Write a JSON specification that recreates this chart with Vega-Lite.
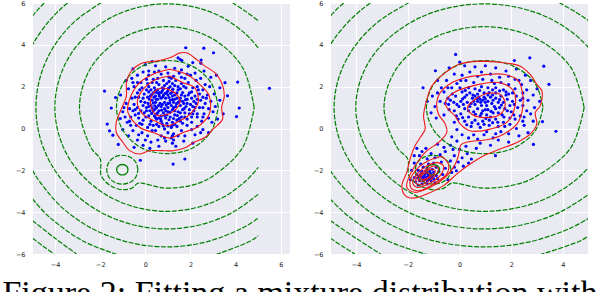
{
"$schema":"https://vega.github.io/schema/vega-lite/v6.json",
"padding":{"left":2,"top":0,"right":0,"bottom":0},
"background":"white",
"title":{"text":"Figure 2: Fitting a mixture distribution with","orient":"bottom","anchor":"start","font":"Liberation Serif","fontSize":34,"fontWeight":"normal","color":"#000000","offset":9,"dx":-13,"frame":"bounds"},
"config":{"view":{"fill":"#eaeaf2","stroke":null},
"axis":{"grid":true,"gridColor":"#ffffff","gridWidth":1.1,"domain":false,"ticks":false,"title":null,"labelFont":"DejaVu Sans","labelFontSize":6.5,"labelColor":"#262626"}},
"spacing":23,
"datasets":{
"green":[
{"c":"c1","x":3.23,"y":1.02},{"c":"c1","x":2.93,"y":2.15},{"c":"c1","x":2.1,"y":2.97},{"c":"c1","x":0.97,"y":3.25},{"c":"c1","x":-0.16,"y":2.97},{"c":"c1","x":-0.98,"y":2.15},{"c":"c1","x":-1.28,"y":1.02},{"c":"c1","x":-0.98,"y":-0.11},{"c":"c1","x":-0.16,"y":-0.93},{"c":"c1","x":0.97,"y":-1.2},{"c":"c1","x":2.1,"y":-0.93},{"c":"c1","x":2.93,"y":-0.11},{"c":"c1","x":3.23,"y":1.02},
{"c":"c2","x":4.82,"y":1},{"c":"c2","x":4.3,"y":2.93},{"c":"c2","x":2.88,"y":4.35},{"c":"c2","x":0.95,"y":4.87},{"c":"c2","x":-0.98,"y":4.35},{"c":"c2","x":-2.4,"y":2.93},{"c":"c2","x":-2.92,"y":1},{"c":"c2","x":-2.4,"y":-0.93},{"c":"c2","x":-2.0,"y":-1.46},{"c":"c2","x":-1.96,"y":-2.25},{"c":"c2","x":-1.59,"y":-2.7},{"c":"c2","x":-1.07,"y":-2.92},{"c":"c2","x":-0.62,"y":-2.86},{"c":"c2","x":-0.33,"y":-2.62},{"c":"c2","x":-0.1,"y":-2.62},{"c":"c2","x":0.49,"y":-2.78},{"c":"c2","x":0.95,"y":-2.85},{"c":"c2","x":1.95,"y":-2.74},{"c":"c2","x":2.88,"y":-2.35},{"c":"c2","x":4.3,"y":-0.93},{"c":"c2","x":4.82,"y":1},
{"c":"c3","x":5,"y":3.86},{"c":"c3","x":4.46,"y":4.5},{"c":"c3","x":3.43,"y":5.3},{"c":"c3","x":2.23,"y":5.79},{"c":"c3","x":0.95,"y":5.96},{"c":"c3","x":-0.33,"y":5.79},{"c":"c3","x":-1.53,"y":5.3},{"c":"c3","x":-2.56,"y":4.5},{"c":"c3","x":-3.35,"y":3.48},{"c":"c3","x":-3.84,"y":2.28},{"c":"c3","x":-4.01,"y":1},{"c":"c3","x":-3.84,"y":-0.28},{"c":"c3","x":-3.35,"y":-1.48},{"c":"c3","x":-2.56,"y":-2.5},{"c":"c3","x":-1.53,"y":-3.3},{"c":"c3","x":-0.33,"y":-3.79},{"c":"c3","x":0.95,"y":-3.96},{"c":"c3","x":2.23,"y":-3.79},{"c":"c3","x":3.43,"y":-3.3},{"c":"c3","x":4.46,"y":-2.5},{"c":"c3","x":5,"y":-1.86},
{"c":"c4a","x":3.85,"y":6.02},{"c":"c4a","x":4.45,"y":5.6},{"c":"c4a","x":5,"y":5.15},
{"c":"c4b","x":-1.95,"y":6.02},{"c":"c4b","x":-3.15,"y":5.1},{"c":"c4b","x":-4.07,"y":3.9},{"c":"c4b","x":-4.65,"y":2.5},{"c":"c4b","x":-4.85,"y":1},{"c":"c4b","x":-4.65,"y":-0.5},{"c":"c4b","x":-4.07,"y":-1.9},{"c":"c4b","x":-3.15,"y":-3.1},{"c":"c4b","x":-1.95,"y":-4.02},{"c":"c4b","x":-0.55,"y":-4.6},{"c":"c4b","x":0.95,"y":-4.8},{"c":"c4b","x":2.45,"y":-4.6},{"c":"c4b","x":3.85,"y":-4.02},{"c":"c4b","x":5,"y":-3.15},
{"c":"c5a","x":-3.45,"y":6},{"c":"c5a","x":-3.76,"y":5.71},{"c":"c5a","x":-4.3,"y":5.1},{"c":"c5a","x":-4.82,"y":4.33},{"c":"c5a","x":-5,"y":4},
{"c":"c5b","x":-5,"y":-2},{"c":"c5b","x":-4.82,"y":-2.33},{"c":"c5b","x":-3.76,"y":-3.71},{"c":"c5b","x":-2.38,"y":-4.77},{"c":"c5b","x":-0.77,"y":-5.43},{"c":"c5b","x":0.95,"y":-5.66},{"c":"c5b","x":2.67,"y":-5.43},{"c":"c5b","x":4.28,"y":-4.77},{"c":"c5b","x":5,"y":-4.29},
{"c":"c6a","x":-4.48,"y":6},{"c":"c6a","x":-4.75,"y":5.7},{"c":"c6a","x":-5,"y":5.37},
{"c":"c6b","x":-5,"y":-3.37},{"c":"c6b","x":-4.27,"y":-4.22},{"c":"c6b","x":-2.74,"y":-5.39},{"c":"c6b","x":-0.96,"y":-6.13},
{"c":"c6c","x":2.86,"y":-6.13},{"c":"c6c","x":4.64,"y":-5.39},{"c":"c6c","x":5,"y":-5.13},
{"c":"c7","x":-5,"y":-4.4},{"c":"c7","x":-4,"y":-5.25},{"c":"c7","x":-3.05,"y":-6},
{"c":"c8","x":-5,"y":-5.24},{"c":"c8","x":-4.5,"y":-5.65},{"c":"c8","x":-4.05,"y":-6},
{"c":"b1","x":-0.33,"y":-1.97},{"c":"b1","x":-0.42,"y":-1.62},{"c":"b1","x":-0.67,"y":-1.37},{"c":"b1","x":-1.02,"y":-1.28},{"c":"b1","x":-1.37,"y":-1.37},{"c":"b1","x":-1.62,"y":-1.62},{"c":"b1","x":-1.71,"y":-1.97},{"c":"b1","x":-1.62,"y":-2.32},{"c":"b1","x":-1.37,"y":-2.57},{"c":"b1","x":-1.02,"y":-2.66},{"c":"b1","x":-0.67,"y":-2.57},{"c":"b1","x":-0.42,"y":-2.32},{"c":"b1","x":-0.33,"y":-1.97}
],
"ring":[
{"c":"b2","x":-0.77,"y":-1.97},{"c":"b2","x":-0.8,"y":-1.85},{"c":"b2","x":-0.9,"y":-1.75},{"c":"b2","x":-1.02,"y":-1.72},{"c":"b2","x":-1.14,"y":-1.75},{"c":"b2","x":-1.24,"y":-1.85},{"c":"b2","x":-1.27,"y":-1.97},{"c":"b2","x":-1.24,"y":-2.09},{"c":"b2","x":-1.14,"y":-2.19},{"c":"b2","x":-1.02,"y":-2.22},{"c":"b2","x":-0.9,"y":-2.19},{"c":"b2","x":-0.8,"y":-2.09},{"c":"b2","x":-0.77,"y":-1.97}
],
"redL":[
{"c":"a","x":1.45,"y":3.59},{"c":"a","x":1.82,"y":3.62},{"c":"a","x":2.27,"y":3.3},{"c":"a","x":2.64,"y":2.98},{"c":"a","x":3.08,"y":2.67},{"c":"a","x":3.38,"y":2.19},{"c":"a","x":3.5,"y":1.56},{"c":"a","x":3.38,"y":1.0},{"c":"a","x":3.42,"y":0.44},{"c":"a","x":3.0,"y":-0.03},{"c":"a","x":2.64,"y":-0.43},{"c":"a","x":2.12,"y":-0.67},{"c":"a","x":1.82,"y":-0.9},{"c":"a","x":1.23,"y":-1.06},{"c":"a","x":0.71,"y":-1.06},{"c":"a","x":0.19,"y":-1.06},{"c":"a","x":-0.25,"y":-1.22},{"c":"a","x":-0.7,"y":-1.06},{"c":"a","x":-0.99,"y":-0.67},{"c":"a","x":-1.29,"y":-0.19},{"c":"a","x":-1.29,"y":0.29},{"c":"a","x":-1.07,"y":0.92},{"c":"a","x":-0.84,"y":1.56},{"c":"a","x":-0.84,"y":2.19},{"c":"a","x":-0.62,"y":2.75},{"c":"a","x":-0.1,"y":3.14},{"c":"a","x":0.49,"y":3.22},{"c":"a","x":1.08,"y":3.38},{"c":"a","x":1.45,"y":3.59},
{"c":"b","x":1.08,"y":2.83},{"c":"b","x":1.82,"y":2.59},{"c":"b","x":2.41,"y":2.11},{"c":"b","x":2.83,"y":1.56},{"c":"b","x":2.83,"y":0.68},{"c":"b","x":2.27,"y":0.05},{"c":"b","x":1.67,"y":-0.19},{"c":"b","x":1.08,"y":-0.46},{"c":"b","x":0.34,"y":-0.19},{"c":"b","x":-0.25,"y":0.05},{"c":"b","x":-0.77,"y":0.76},{"c":"b","x":-0.7,"y":1.4},{"c":"b","x":-0.25,"y":2.19},{"c":"b","x":0.34,"y":2.59},{"c":"b","x":1.08,"y":2.83},
{"c":"d","x":1.08,"y":2.51},{"c":"d","x":1.67,"y":2.19},{"c":"d","x":2.19,"y":1.95},{"c":"d","x":2.34,"y":1.24},{"c":"d","x":1.97,"y":0.68},{"c":"d","x":1.53,"y":0.37},{"c":"d","x":1.0,"y":0.13},{"c":"d","x":0.41,"y":0.37},{"c":"d","x":-0.1,"y":0.68},{"c":"d","x":-0.36,"y":1.24},{"c":"d","x":-0.1,"y":1.87},{"c":"d","x":0.49,"y":2.35},{"c":"d","x":1.08,"y":2.51},
{"c":"e","x":0.79,"y":1.95},{"c":"e","x":1.3,"y":1.71},{"c":"e","x":1.54,"y":1.32},{"c":"e","x":1.38,"y":0.95},{"c":"e","x":1.0,"y":0.68},{"c":"e","x":0.49,"y":0.65},{"c":"e","x":0.27,"y":1.0},{"c":"e","x":0.27,"y":1.56},{"c":"e","x":0.49,"y":1.84},{"c":"e","x":0.79,"y":1.95}
],
"redR":[
{"c":"a","x":0.99,"y":3.22},{"c":"a","x":1.7,"y":3.14},{"c":"a","x":2.35,"y":2.98},{"c":"a","x":2.73,"y":2.59},{"c":"a","x":2.99,"y":2.11},{"c":"a","x":3.19,"y":1.79},{"c":"a","x":3.12,"y":1.08},{"c":"a","x":2.93,"y":0.76},{"c":"a","x":2.99,"y":0.21},{"c":"a","x":2.73,"y":-0.27},{"c":"a","x":2.22,"y":-0.67},{"c":"a","x":1.57,"y":-0.98},{"c":"a","x":0.93,"y":-1.3},{"c":"a","x":0.41,"y":-1.7},{"c":"a","x":-0.1,"y":-2.17},{"c":"a","x":-0.62,"y":-2.73},{"c":"a","x":-1.26,"y":-3.13},{"c":"a","x":-1.78,"y":-3.33},{"c":"a","x":-2.1,"y":-3.21},{"c":"a","x":-2.23,"y":-2.73},{"c":"a","x":-2.04,"y":-2.1},{"c":"a","x":-1.91,"y":-1.46},{"c":"a","x":-1.72,"y":-0.83},{"c":"a","x":-1.52,"y":-0.43},{"c":"a","x":-1.33,"y":-0.03},{"c":"a","x":-1.39,"y":0.6},{"c":"a","x":-1.26,"y":1.4},{"c":"a","x":-1.07,"y":2.03},{"c":"a","x":-0.55,"y":2.67},{"c":"a","x":-0.04,"y":3.06},{"c":"a","x":0.48,"y":3.19},{"c":"a","x":0.99,"y":3.22},
{"c":"b","x":0.8,"y":2.54},{"c":"b","x":1.7,"y":2.59},{"c":"b","x":2.28,"y":2.27},{"c":"b","x":2.45,"y":1.56},{"c":"b","x":2.41,"y":0.76},{"c":"b","x":2.22,"y":0.21},{"c":"b","x":1.7,"y":-0.27},{"c":"b","x":1.06,"y":-0.54},{"c":"b","x":0.35,"y":-0.63},{"c":"b","x":0.05,"y":-0.79},{"c":"b","x":-0.04,"y":-1.3},{"c":"b","x":-0.23,"y":-1.86},{"c":"b","x":-0.55,"y":-2.33},{"c":"b","x":-1.13,"y":-2.81},{"c":"b","x":-1.72,"y":-3.05},{"c":"b","x":-2.04,"y":-2.81},{"c":"b","x":-1.93,"y":-2.25},{"c":"b","x":-1.59,"y":-1.54},{"c":"b","x":-1.26,"y":-1.06},{"c":"b","x":-0.81,"y":-0.67},{"c":"b","x":-0.49,"y":-0.19},{"c":"b","x":-0.55,"y":0.21},{"c":"b","x":-0.81,"y":0.68},{"c":"b","x":-0.88,"y":1.24},{"c":"b","x":-0.75,"y":1.71},{"c":"b","x":-0.3,"y":2.19},{"c":"b","x":0.22,"y":2.43},{"c":"b","x":0.8,"y":2.54},
{"c":"d","x":0.74,"y":2.11},{"c":"d","x":1.57,"y":2.19},{"c":"d","x":2.09,"y":1.79},{"c":"d","x":2.15,"y":1.08},{"c":"d","x":1.83,"y":0.29},{"c":"d","x":1.19,"y":-0.03},{"c":"d","x":0.41,"y":-0.11},{"c":"d","x":0.03,"y":0.21},{"c":"d","x":-0.17,"y":0.6},{"c":"d","x":-0.49,"y":1.0},{"c":"d","x":-0.55,"y":1.24},{"c":"d","x":-0.23,"y":1.71},{"c":"d","x":0.74,"y":2.11},
{"c":"e","x":1.06,"y":1.68},{"c":"e","x":1.57,"y":1.63},{"c":"e","x":1.77,"y":1.16},{"c":"e","x":1.57,"y":0.68},{"c":"e","x":0.93,"y":0.52},{"c":"e","x":0.48,"y":0.68},{"c":"e","x":0.31,"y":1.0},{"c":"e","x":0.61,"y":1.4},{"c":"e","x":1.06,"y":1.68},
{"c":"f","x":-0.68,"y":-1.33},{"c":"f","x":-0.43,"y":-1.7},{"c":"f","x":-0.49,"y":-2.17},{"c":"f","x":-1.01,"y":-2.65},{"c":"f","x":-1.52,"y":-2.97},{"c":"f","x":-1.84,"y":-2.89},{"c":"f","x":-1.91,"y":-2.49},{"c":"f","x":-1.59,"y":-1.86},{"c":"f","x":-1.2,"y":-1.54},{"c":"f","x":-0.68,"y":-1.33},
{"c":"g","x":-0.88,"y":-1.62},{"c":"g","x":-0.62,"y":-1.78},{"c":"g","x":-0.75,"y":-2.25},{"c":"g","x":-1.2,"y":-2.65},{"c":"g","x":-1.65,"y":-2.81},{"c":"g","x":-1.81,"y":-2.57},{"c":"g","x":-1.59,"y":-2.1},{"c":"g","x":-1.26,"y":-1.78},{"c":"g","x":-0.88,"y":-1.62},
{"c":"h","x":-1.01,"y":-1.78},{"c":"h","x":-0.81,"y":-1.94},{"c":"h","x":-1.01,"y":-2.33},{"c":"h","x":-1.39,"y":-2.65},{"c":"h","x":-1.65,"y":-2.65},{"c":"h","x":-1.68,"y":-2.41},{"c":"h","x":-1.46,"y":-2.1},{"c":"h","x":-1.01,"y":-1.78},
{"c":"i","x":-1.13,"y":-1.94},{"c":"i","x":-0.94,"y":-2.02},{"c":"i","x":-1.13,"y":-2.33},{"c":"i","x":-1.46,"y":-2.52},{"c":"i","x":-1.59,"y":-2.49},{"c":"i","x":-1.52,"y":-2.25},{"c":"i","x":-1.13,"y":-1.94},
{"c":"j","x":-1.24,"y":-2.1},{"c":"j","x":-1.13,"y":-2.22},{"c":"j","x":-1.33,"y":-2.41},{"c":"j","x":-1.48,"y":-2.41},{"c":"j","x":-1.46,"y":-2.25},{"c":"j","x":-1.24,"y":-2.1}
],
"ptsL":[
{"x":-1.81,"y":1.79},{"x":5.5,"y":1.92},{"x":4.09,"y":2.22},{"x":4.16,"y":0.98},{"x":4.04,"y":0.57},{"x":3.02,"y":3.62},{"x":2.59,"y":3.84},{"x":1.79,"y":3.86},{"x":1.23,"y":-1.7},{"x":1.75,"y":-1.46},{"x":-0.22,"y":-1.52},{"x":3.64,"y":1.56},{"x":3.53,"y":2.19},{"x":-1.51,"y":0.98},{"x":-1.69,"y":0.21},{"x":-1.59,"y":-0.11},{"x":-1.44,"y":-0.32},{"x":-1.2,"y":-0.76},{"x":-1.32,"y":1.48},{"x":-1.11,"y":0.48},
{"x":2.47,"y":3.27},{"x":2.46,"y":3.12},{"x":1.55,"y":3.3},{"x":1.45,"y":3.38},{"x":1.62,"y":3.25},{"x":2.1,"y":3.15},{"x":0.0,"y":3.05},{"x":0.3,"y":3.2},{"x":0.45,"y":3.0},{"x":0.9,"y":2.95},{"x":1.3,"y":2.88},{"x":1.9,"y":2.98},{"x":2.6,"y":2.75},{"x":3.15,"y":2.55},{"x":2.9,"y":2.45},{"x":3.3,"y":1.95},{"x":3.05,"y":1.65},{"x":3.3,"y":1.35},{"x":3.1,"y":1.05},{"x":3.45,"y":0.7},{"x":3.2,"y":0.45},{"x":2.95,"y":0.3},{"x":2.8,"y":-0.2},{"x":2.55,"y":-0.05},{"x":2.2,"y":-0.3},{"x":2.1,"y":-0.7},{"x":1.7,"y":-0.6},{"x":1.35,"y":-0.85},{"x":1.2,"y":-0.7},{"x":1.15,"y":-0.45},{"x":0.9,"y":-0.6},{"x":0.6,"y":-0.85},{"x":0.25,"y":-0.65},{"x":0.2,"y":-0.95},{"x":-0.1,"y":-0.8},{"x":-0.35,"y":-0.55},{"x":-0.5,"y":-0.9},{"x":-0.75,"y":-0.35},{"x":-1.0,"y":-0.05},{"x":-0.8,"y":0.3},{"x":-0.55,"y":-0.1},{"x":-1.0,"y":0.8},{"x":-0.85,"y":1.2},{"x":-1.1,"y":1.6},{"x":-0.75,"y":1.9},{"x":-0.85,"y":2.3},{"x":-0.6,"y":2.4},{"x":-0.55,"y":2.85},{"x":-0.35,"y":2.55},{"x":-0.1,"y":2.7},
{"x":0.15,"y":2.55},{"x":0.4,"y":2.7},{"x":0.7,"y":2.6},{"x":1.0,"y":2.65},{"x":1.25,"y":2.5},{"x":1.5,"y":2.65},{"x":1.75,"y":2.4},{"x":2.0,"y":2.55},{"x":2.25,"y":2.3},{"x":2.45,"y":2.4},{"x":2.65,"y":2.1},{"x":2.85,"y":2.0},{"x":2.55,"y":1.85},{"x":2.75,"y":1.6},{"x":2.9,"y":1.3},{"x":2.65,"y":1.2},{"x":2.8,"y":0.95},{"x":2.6,"y":0.7},{"x":2.8,"y":0.5},{"x":2.5,"y":0.35},{"x":2.3,"y":0.55},{"x":2.3,"y":0.1},{"x":2.05,"y":-0.05},{"x":1.85,"y":0.15},{"x":1.6,"y":-0.1},{"x":1.45,"y":-0.35},{"x":1.0,"y":-0.2},{"x":0.7,"y":-0.35},{"x":0.45,"y":-0.1},{"x":0.1,"y":-0.35},{"x":-0.15,"y":-0.2},{"x":-0.4,"y":0.15},{"x":-0.65,"y":0.55},{"x":-0.45,"y":0.65},{"x":-0.7,"y":0.95},{"x":-0.5,"y":1.15},{"x":-0.6,"y":1.45},{"x":-0.35,"y":1.7},{"x":-0.5,"y":2.0},{"x":-0.2,"y":2.2},{"x":0.05,"y":2.35},{"x":0.3,"y":2.2},{"x":0.55,"y":2.4},{"x":0.8,"y":2.3},
{"x":1.05,"y":2.25},{"x":1.35,"y":2.3},{"x":1.6,"y":2.15},{"x":1.9,"y":2.2},{"x":2.1,"y":1.95},{"x":2.3,"y":2.0},{"x":2.4,"y":1.65},{"x":2.2,"y":1.55},{"x":2.45,"y":1.35},{"x":2.25,"y":1.2},{"x":2.4,"y":1.0},{"x":2.15,"y":0.85},{"x":2.3,"y":0.7},{"x":2.05,"y":0.55},{"x":1.85,"y":0.45},{"x":1.65,"y":0.25},{"x":1.4,"y":0.1},{"x":1.15,"y":0.05},{"x":0.85,"y":-0.02},{"x":0.6,"y":0.1},{"x":0.35,"y":0.15},{"x":0.1,"y":0.05},{"x":-0.1,"y":0.4},{"x":-0.3,"y":0.5},{"x":-0.2,"y":0.85},{"x":-0.35,"y":1.0},{"x":-0.2,"y":1.3},{"x":-0.3,"y":1.5},{"x":-0.05,"y":1.65},{"x":-0.15,"y":1.95},{"x":0.15,"y":2.0},{"x":0.4,"y":1.95},{"x":0.6,"y":2.1},{"x":0.85,"y":2.05},{"x":1.1,"y":2.0},{"x":1.3,"y":2.05},{"x":1.55,"y":1.9},{"x":1.8,"y":1.95},{"x":1.95,"y":1.7},{"x":2.05,"y":1.45},{"x":1.85,"y":1.4},{"x":2.0,"y":1.15},{"x":1.8,"y":1.05},{"x":1.95,"y":0.9},{"x":1.75,"y":0.75},{"x":1.6,"y":0.55},{"x":1.4,"y":0.4},{"x":1.2,"y":0.3},{"x":0.95,"y":0.25},{"x":0.7,"y":0.35},{"x":0.5,"y":0.45},{"x":0.25,"y":0.35},{"x":0.15,"y":0.6},{"x":-0.05,"y":0.75},{"x":0.05,"y":1.0},{"x":-0.02,"y":1.25},{"x":0.1,"y":1.5},{"x":0.15,"y":1.75},{"x":0.35,"y":1.7},
{"x":0.55,"y":1.85},{"x":0.75,"y":1.8},{"x":1.0,"y":1.8},{"x":1.2,"y":1.75},{"x":1.4,"y":1.7},{"x":1.6,"y":1.6},{"x":1.75,"y":1.55},{"x":1.65,"y":1.3},{"x":1.55,"y":1.1},{"x":1.65,"y":0.9},{"x":1.45,"y":0.8},{"x":1.3,"y":0.65},{"x":1.1,"y":0.55},{"x":0.9,"y":0.5},{"x":0.7,"y":0.6},{"x":0.5,"y":0.7},{"x":0.35,"y":0.85},{"x":0.25,"y":1.1},{"x":0.3,"y":1.35},{"x":0.45,"y":1.55},{"x":0.6,"y":1.65},{"x":0.8,"y":1.6},{"x":1.0,"y":1.6},{"x":1.2,"y":1.55},{"x":1.4,"y":1.45},{"x":1.45,"y":1.25},{"x":1.35,"y":1.05},{"x":1.2,"y":0.9},{"x":1.0,"y":0.8},{"x":0.8,"y":0.75},{"x":0.6,"y":0.85},{"x":0.5,"y":1.0},{"x":0.45,"y":1.25},{"x":0.55,"y":1.4},{"x":0.7,"y":1.45},{"x":0.9,"y":1.45},{"x":1.1,"y":1.35},{"x":1.25,"y":1.25},{"x":1.15,"y":1.1},{"x":1.0,"y":1.0},{"x":0.85,"y":0.95},{"x":0.7,"y":1.05},{"x":0.65,"y":1.2},{"x":0.85,"y":1.25},{"x":1.0,"y":1.2},{"x":0.38,"y":1.5},{"x":0.62,"y":1.72},{"x":0.95,"y":1.72},{"x":1.3,"y":1.4},{"x":1.55,"y":1.45},{"x":1.7,"y":1.2},{"x":1.3,"y":0.85},{"x":0.95,"y":0.65},{"x":0.6,"y":0.5},{"x":0.4,"y":0.6},{"x":0.2,"y":0.85},{"x":0.12,"y":1.2},{"x":0.22,"y":1.55},{"x":0.75,"y":1.95},{"x":1.45,"y":2.0},{"x":1.9,"y":1.6},{"x":2.15,"y":1.3},{"x":2.2,"y":1.0},{"x":1.95,"y":0.7},{"x":1.55,"y":0.35},{"x":1.2,"y":0.15},{"x":0.8,"y":0.12},{"x":0.3,"y":-0.1},{"x":-0.25,"y":0.25},{"x":-0.45,"y":0.9},{"x":-0.1,"y":1.45},{"x":0.35,"y":2.35},{"x":1.15,"y":2.4},{"x":1.6,"y":2.45},{"x":2.55,"y":1.5},{"x":2.55,"y":1.0},{"x":2.05,"y":0.3},{"x":1.25,"y":-0.25},{"x":1.25,"y":-0.55},{"x":1.2,"y":-0.35},{"x":0.55,"y":-0.55},{"x":-0.3,"y":-0.3},{"x":-0.65,"y":0.15},{"x":-0.9,"y":0.55},{"x":-0.35,"y":2.2},{"x":0.6,"y":2.75},{"x":1.6,"y":2.8},{"x":2.2,"y":2.65},
{"x":0.3,"y":0.98},{"x":0.42,"y":1.08},{"x":0.58,"y":1.1},{"x":0.75,"y":1.15},{"x":0.92,"y":1.12},{"x":1.08,"y":1.22},{"x":1.2,"y":1.38},{"x":1.05,"y":1.48},{"x":0.78,"y":1.52},{"x":0.62,"y":1.55},{"x":0.48,"y":1.4},{"x":0.35,"y":1.22},{"x":0.42,"y":0.92},{"x":0.55,"y":0.75},{"x":0.72,"y":0.88},{"x":0.9,"y":0.85},{"x":1.1,"y":0.78},{"x":1.25,"y":1.0},{"x":1.38,"y":1.18},{"x":1.52,"y":1.32},{"x":1.3,"y":1.6},{"x":1.12,"y":1.68},{"x":0.88,"y":1.68},{"x":0.7,"y":1.72},{"x":0.5,"y":1.72},{"x":0.28,"y":1.62},{"x":0.18,"y":1.4},{"x":0.15,"y":1.05},{"x":0.28,"y":0.72},{"x":0.45,"y":0.52},{"x":0.68,"y":0.45},{"x":0.85,"y":0.62},{"x":1.05,"y":0.42},{"x":1.25,"y":0.48},{"x":1.42,"y":0.62},{"x":1.55,"y":0.75},{"x":1.72,"y":0.95},{"x":1.85,"y":1.2},{"x":1.78,"y":1.38},{"x":1.65,"y":1.72},{"x":1.45,"y":1.85},{"x":1.22,"y":1.88},{"x":1.02,"y":1.92},{"x":0.8,"y":1.9},{"x":0.45,"y":1.82},{"x":0.25,"y":1.85},{"x":0.05,"y":1.85},{"x":-0.1,"y":1.1},{"x":0.05,"y":0.85},{"x":0.02,"y":0.55},{"x":0.2,"y":0.2},{"x":0.5,"y":0.2},{"x":0.75,"y":0.22},{"x":1.0,"y":0.12},{"x":1.3,"y":0.2},{"x":1.5,"y":0.48},{"x":1.75,"y":0.55},{"x":2.1,"y":0.7},{"x":2.1,"y":1.05},{"x":2.3,"y":1.4},{"x":2.05,"y":1.75},{"x":1.7,"y":2.02},{"x":1.2,"y":2.15},{"x":0.95,"y":2.15},{"x":0.5,"y":2.2},{"x":0.1,"y":2.15},{"x":-0.25,"y":1.85},{"x":-0.45,"y":1.5},{"x":-0.55,"y":0.85},{"x":-0.3,"y":0.72},{"x":-0.15,"y":0.2},{"x":2.55,"y":0.55},{"x":2.7,"y":1.45},{"x":2.35,"y":1.85},{"x":1.85,"y":2.6},{"x":1.05,"y":2.45},{"x":0.15,"y":2.75},{"x":-0.55,"y":2.2},{"x":-0.95,"y":1.0},{"x":-0.7,"y":0.35},{"x":0.0,"y":-0.55},{"x":0.85,"y":-0.45},{"x":1.75,"y":-0.35},{"x":2.45,"y":-0.2},{"x":3.0,"y":0.8}
],
"ptsR":[
{"x":-0.15,"y":3.54},{"x":0.01,"y":3.17},{"x":2.72,"y":3.38},{"x":3.26,"y":2.98},{"x":2.12,"y":3.25},{"x":3.46,"y":2.11},{"x":3.73,"y":-0.13},{"x":2.86,"y":-0.76},{"x":3.21,"y":0.33},{"x":-1.41,"y":1.95},{"x":-0.93,"y":2.76},{"x":1.39,"y":-1.3},{"x":0.46,"y":-1.46},{"x":-0.12,"y":-2.02},
{"x":-0.4,"y":2.9},{"x":0.2,"y":3.0},{"x":0.6,"y":2.95},{"x":1.0,"y":3.0},{"x":1.4,"y":2.9},{"x":1.8,"y":2.75},{"x":2.2,"y":2.85},{"x":2.55,"y":2.55},{"x":2.75,"y":2.3},{"x":3.0,"y":1.9},{"x":2.85,"y":1.6},{"x":3.1,"y":1.3},{"x":2.9,"y":1.0},{"x":2.75,"y":0.7},{"x":2.85,"y":0.35},{"x":2.5,"y":0.15},{"x":2.65,"y":-0.2},{"x":2.3,"y":-0.35},{"x":1.9,"y":-0.65},{"x":1.5,"y":-0.55},{"x":1.2,"y":-0.8},{"x":0.8,"y":-0.7},{"x":0.65,"y":-0.95},{"x":0.35,"y":-0.45},{"x":0.1,"y":-0.3},{"x":-0.1,"y":-0.05},{"x":-0.2,"y":0.3},{"x":-0.6,"y":0.65},{"x":-0.9,"y":0.5},{"x":-1.1,"y":0.75},{"x":-1.25,"y":1.3},{"x":-1.05,"y":1.55},{"x":-0.75,"y":1.3},{"x":-0.95,"y":1.05},{"x":-0.7,"y":1.95},{"x":-0.85,"y":2.3},{"x":-0.5,"y":2.3},{"x":-0.2,"y":2.6},{"x":0.1,"y":2.55},{"x":0.4,"y":2.7},{"x":0.85,"y":2.7},{"x":1.2,"y":2.6},{"x":1.55,"y":2.45},{"x":1.9,"y":2.5},{"x":2.15,"y":2.35},{"x":2.4,"y":2.1},{"x":2.6,"y":1.85},{"x":2.45,"y":1.7},{"x":2.65,"y":1.35},{"x":2.45,"y":1.1},{"x":2.6,"y":0.85},{"x":2.35,"y":0.6},{"x":2.15,"y":0.45},{"x":2.2,"y":0.0},{"x":1.9,"y":-0.25},{"x":1.6,"y":-0.15},{"x":1.3,"y":-0.45},{"x":0.95,"y":-0.3},{"x":0.55,"y":-0.3},{"x":-0.05,"y":0.45},
{"x":-0.45,"y":1.45},{"x":-0.55,"y":1.2},{"x":-0.6,"y":1.75},{"x":-0.3,"y":1.95},{"x":-0.1,"y":2.15},{"x":0.25,"y":2.3},{"x":0.55,"y":2.2},{"x":0.9,"y":2.35},{"x":1.25,"y":2.3},{"x":1.6,"y":2.2},{"x":1.9,"y":2.1},{"x":2.15,"y":1.9},{"x":2.2,"y":1.55},{"x":2.05,"y":1.3},{"x":2.25,"y":1.0},{"x":2.0,"y":0.8},{"x":1.95,"y":0.5},{"x":1.7,"y":0.3},{"x":1.5,"y":0.1},{"x":1.15,"y":0.15},{"x":0.8,"y":0.05},{"x":0.45,"y":0.1},{"x":0.2,"y":0.35},{"x":0.05,"y":0.7},{"x":-0.2,"y":0.85},{"x":-0.1,"y":1.15},{"x":-0.35,"y":1.35},{"x":-0.15,"y":1.55},{"x":0.1,"y":1.75},{"x":0.35,"y":1.95},{"x":0.6,"y":1.9},{"x":0.85,"y":2.0},{"x":1.1,"y":1.95},{"x":1.4,"y":1.95},{"x":1.7,"y":1.85},{"x":1.9,"y":1.65},{"x":1.85,"y":1.4},{"x":1.95,"y":1.1},{"x":1.75,"y":0.95},{"x":1.65,"y":0.65},{"x":1.4,"y":0.45},{"x":1.15,"y":0.4},{"x":0.9,"y":0.35},{"x":0.6,"y":0.4},{"x":0.35,"y":0.55},{"x":0.2,"y":0.95},{"x":0.05,"y":1.3},{"x":0.2,"y":1.5},{"x":0.4,"y":1.7},{"x":0.7,"y":1.65},{"x":0.95,"y":1.7},{"x":1.15,"y":1.72},{"x":1.4,"y":1.7},{"x":1.6,"y":1.55},{"x":1.7,"y":1.25},{"x":1.55,"y":1.0},{"x":1.3,"y":0.75},{"x":1.05,"y":0.65},{"x":0.8,"y":0.6},{"x":0.55,"y":0.8},{"x":0.4,"y":1.05},{"x":0.3,"y":1.25},{"x":0.5,"y":1.45},{"x":0.75,"y":1.5},{"x":0.95,"y":1.5},{"x":1.2,"y":1.5},{"x":1.4,"y":1.45},{"x":1.5,"y":1.25},{"x":1.35,"y":1.05},{"x":1.1,"y":0.9},{"x":0.9,"y":0.85},{"x":0.7,"y":0.95},{"x":0.6,"y":1.15},{"x":0.7,"y":1.3},{"x":0.9,"y":1.35},{"x":1.1,"y":1.3},{"x":1.25,"y":1.2},{"x":1.05,"y":1.1},{"x":0.85,"y":1.1},{"x":1.3,"y":1.35},{"x":1.0,"y":1.25},{"x":0.8,"y":1.4},{"x":1.1,"y":1.6},{"x":0.6,"y":1.55},{"x":1.5,"y":0.75},{"x":1.2,"y":0.55},{"x":1.8,"y":1.6},{"x":0.15,"y":1.15},{"x":-0.4,"y":0.9},{"x":0.95,"y":0.2},{"x":1.75,"y":0.1},{"x":2.45,"y":0.35},
{"x":0.55,"y":1.3},{"x":0.45,"y":1.2},{"x":0.35,"y":0.85},{"x":0.62,"y":0.68},{"x":0.85,"y":0.72},{"x":1.0,"y":0.9},{"x":1.22,"y":0.82},{"x":1.4,"y":0.95},{"x":1.62,"y":1.12},{"x":1.55,"y":1.38},{"x":1.28,"y":1.6},{"x":1.0,"y":1.42},{"x":0.82,"y":1.25},{"x":0.68,"y":1.42},{"x":0.52,"y":1.6},{"x":0.28,"y":1.6},{"x":0.12,"y":1.42},{"x":-0.02,"y":1.05},{"x":-0.22,"y":1.25},{"x":-0.42,"y":1.15},{"x":-0.28,"y":1.65},{"x":0.02,"y":1.95},{"x":0.22,"y":1.82},{"x":0.78,"y":1.82},{"x":1.28,"y":1.85},{"x":1.55,"y":1.8},{"x":1.8,"y":1.75},{"x":2.05,"y":1.7},{"x":2.35,"y":1.35},{"x":2.12,"y":1.15},{"x":1.85,"y":0.85},{"x":1.72,"y":0.55},{"x":1.48,"y":0.3},{"x":1.28,"y":0.28},{"x":1.02,"y":0.48},{"x":0.72,"y":0.22},{"x":0.48,"y":0.28},{"x":0.28,"y":0.18},{"x":0.12,"y":0.52},{"x":-0.12,"y":0.6},{"x":1.05,"y":-0.15},{"x":1.4,"y":-0.25},{"x":0.7,"y":-0.5},{"x":1.95,"y":0.2},{"x":2.1,"y":0.65},{"x":2.5,"y":0.55},{"x":2.45,"y":1.45},{"x":2.3,"y":2.3},{"x":1.35,"y":2.15},{"x":0.7,"y":2.5},{"x":0.05,"y":2.3},{"x":-0.45,"y":1.95},{"x":-0.85,"y":1.7},
{"x":-0.3,"y":-0.4},{"x":-0.1,"y":-0.6},{"x":-0.35,"y":-0.8},{"x":-0.6,"y":-0.9},{"x":-0.85,"y":-0.75},{"x":-0.55,"y":-1.1},{"x":-0.25,"y":-1.0},{"x":0.0,"y":-1.0},{"x":0.25,"y":-0.85},{"x":0.3,"y":-1.2},{"x":0.1,"y":-1.4},{"x":0.35,"y":-1.65},{"x":0.15,"y":-1.8},{"x":-0.05,"y":-1.6},{"x":-0.2,"y":-1.3},{"x":-0.35,"y":-1.55},{"x":-0.2,"y":-1.85},{"x":-0.3,"y":-2.1},{"x":-1.65,"y":-0.95},{"x":-1.45,"y":-1.1},{"x":-1.3,"y":-0.95},{"x":-1.55,"y":-1.3},{"x":-1.75,"y":-1.3},{"x":-1.1,"y":-1.2},{"x":-1.25,"y":-1.45},{"x":-0.95,"y":-1.4},{"x":-0.75,"y":-1.25},{"x":-1.75,"y":-1.65},{"x":-1.5,"y":-1.7},{"x":-1.85,"y":-2.0},{"x":-0.7,"y":-1.6},{"x":-0.55,"y":-1.9},{"x":-0.65,"y":-2.2},{"x":-0.45,"y":-2.45},
{"x":-1.0,"y":-1.65},{"x":-1.2,"y":-1.7},{"x":-0.9,"y":-1.85},{"x":-1.05,"y":-1.95},{"x":-1.25,"y":-1.9},{"x":-1.4,"y":-1.85},{"x":-0.8,"y":-2.05},{"x":-1.0,"y":-2.1},{"x":-1.15,"y":-2.05},{"x":-1.3,"y":-2.05},{"x":-1.45,"y":-2.05},{"x":-1.6,"y":-2.0},{"x":-0.9,"y":-2.25},{"x":-1.05,"y":-2.25},{"x":-1.2,"y":-2.2},{"x":-1.35,"y":-2.2},{"x":-1.5,"y":-2.2},{"x":-1.65,"y":-2.2},{"x":-0.85,"y":-2.4},{"x":-1.0,"y":-2.4},{"x":-1.15,"y":-2.35},{"x":-1.3,"y":-2.35},{"x":-1.45,"y":-2.35},{"x":-1.6,"y":-2.35},{"x":-1.75,"y":-2.35},{"x":-1.1,"y":-2.5},{"x":-1.25,"y":-2.5},{"x":-1.4,"y":-2.5},{"x":-1.55,"y":-2.5},{"x":-1.7,"y":-2.55},{"x":-1.25,"y":-2.65},{"x":-1.45,"y":-2.65},{"x":-1.6,"y":-2.7},{"x":-1.28,"y":-2.12},{"x":-1.38,"y":-2.28},{"x":-1.22,"y":-2.28},{"x":-1.12,"y":-2.15},{"x":-1.42,"y":-2.42},{"x":-1.52,"y":-2.28},{"x":-1.32,"y":-2.42},{"x":-1.18,"y":-2.42},{"x":-1.08,"y":-2.3},{"x":-1.48,"y":-2.12},{"x":-0.95,"y":-2.6},{"x":-1.9,"y":-2.45}
]
},
"hconcat":[
{"width":257,"height":251,"layer":[
{"data":{"name":"ptsL"},"mark":{"type":"circle","size":10,"color":"#0000ff","opacity":1},"encoding":{"x":{"field":"x","type":"quantitative","scale":{"domain":[-4.98,6.41],"nice":false,"zero":false},"axis":{"values":[-4,-2,0,2,4,6],"labelPadding":7}},"y":{"field":"y","type":"quantitative","scale":{"domain":[-6,6],"nice":false,"zero":false},"axis":{"values":[-6,-4,-2,0,2,4,6],"labelPadding":8}}}},
{"data":{"name":"green"},"transform":[{"window":[{"op":"row_number","as":"o"}]}],"mark":{"type":"line","color":"#008000","strokeWidth":1.2,"strokeDash":[5,1.5],"interpolate":"catmull-rom","clip":true},"encoding":{"x":{"field":"x","type":"quantitative"},"y":{"field":"y","type":"quantitative"},"detail":{"field":"c"},"order":{"field":"o","type":"quantitative"}}},
{"data":{"name":"ring"},"transform":[{"window":[{"op":"row_number","as":"o"}]}],"mark":{"type":"line","color":"#008000","strokeWidth":1.3,"interpolate":"catmull-rom","clip":true},"encoding":{"x":{"field":"x","type":"quantitative"},"y":{"field":"y","type":"quantitative"},"detail":{"field":"c"},"order":{"field":"o","type":"quantitative"}}},
{"data":{"name":"redL"},"transform":[{"window":[{"op":"row_number","as":"o"}]}],"mark":{"type":"line","color":"#f01818","strokeWidth":1.1,"interpolate":"catmull-rom","clip":true},"encoding":{"x":{"field":"x","type":"quantitative"},"y":{"field":"y","type":"quantitative"},"detail":{"field":"c"},"order":{"field":"o","type":"quantitative"}}}
]},
{"width":257,"height":251,"layer":[
{"data":{"name":"ptsR"},"mark":{"type":"circle","size":10,"color":"#0000ff","opacity":1},"encoding":{"x":{"field":"x","type":"quantitative","scale":{"domain":[-4.97,4.97],"nice":false,"zero":false},"axis":{"values":[-4,-2,0,2,4],"labelPadding":7}},"y":{"field":"y","type":"quantitative","scale":{"domain":[-6,6],"nice":false,"zero":false},"axis":{"values":[-6,-4,-2,0,2,4,6],"labelPadding":8}}}},
{"data":{"name":"green"},"transform":[{"window":[{"op":"row_number","as":"o"}]}],"mark":{"type":"line","color":"#008000","strokeWidth":1.2,"strokeDash":[5,1.5],"interpolate":"catmull-rom","clip":true},"encoding":{"x":{"field":"x","type":"quantitative"},"y":{"field":"y","type":"quantitative"},"detail":{"field":"c"},"order":{"field":"o","type":"quantitative"}}},
{"data":{"name":"ring"},"transform":[{"window":[{"op":"row_number","as":"o"}]}],"mark":{"type":"line","color":"#008000","strokeWidth":1.3,"interpolate":"catmull-rom","clip":true},"encoding":{"x":{"field":"x","type":"quantitative"},"y":{"field":"y","type":"quantitative"},"detail":{"field":"c"},"order":{"field":"o","type":"quantitative"}}},
{"data":{"name":"redR"},"transform":[{"window":[{"op":"row_number","as":"o"}]}],"mark":{"type":"line","color":"#f01818","strokeWidth":1.1,"interpolate":"catmull-rom","clip":true},"encoding":{"x":{"field":"x","type":"quantitative"},"y":{"field":"y","type":"quantitative"},"detail":{"field":"c"},"order":{"field":"o","type":"quantitative"}}}
]}
]
}
